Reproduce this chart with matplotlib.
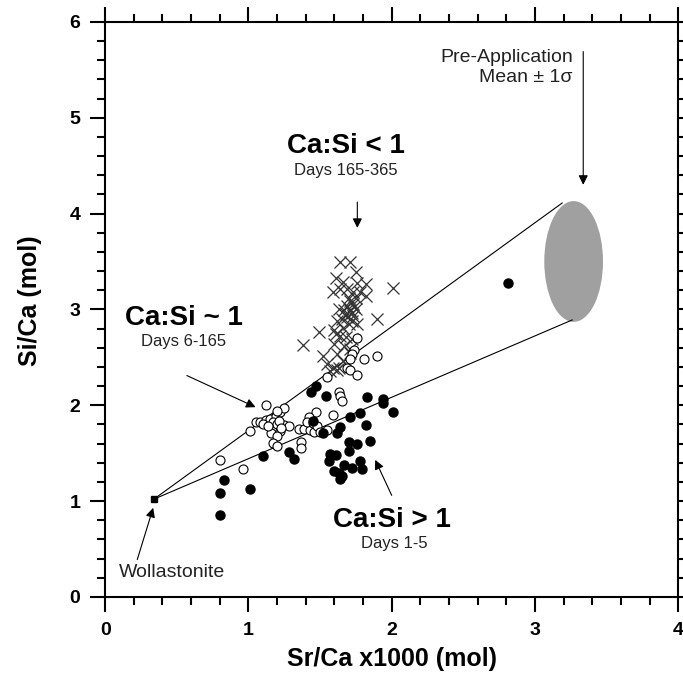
import numpy as np
import matplotlib
matplotlib.use("Agg")
import matplotlib.pyplot as plt
from matplotlib.patches import Ellipse
from matplotlib.ticker import MultipleLocator

plt.rcParams['font.family'] = ['Liberation Sans', 'DejaVu Sans']

# Ca:Si > 1, days 1-5 (filled circles)
filled_x = [0.83, 0.80, 1.01, 0.80, 1.10, 1.28, 1.32, 1.44, 1.47, 1.54, 1.45, 1.52,
            1.62, 1.64, 1.71, 1.78, 1.83, 1.94, 1.94, 2.01, 1.82, 1.70, 1.76, 1.85,
            1.70, 1.57, 1.61, 1.56, 1.67, 1.72, 1.78, 1.79, 1.63, 1.65, 1.64, 1.60,
            2.81]
filled_y = [1.22, 1.08, 1.13, 0.86, 1.47, 1.51, 1.44, 2.14, 2.20, 2.10, 1.84, 1.71,
            1.71, 1.77, 1.88, 1.92, 2.09, 2.06, 2.02, 1.93, 1.79, 1.62, 1.60, 1.63,
            1.52, 1.49, 1.48, 1.42, 1.38, 1.35, 1.42, 1.34, 1.29, 1.26, 1.23, 1.31,
            3.28]

# Ca:Si ~ 1, days 6-165 (open circles)
open_x = [0.80, 0.96, 1.12, 1.01, 1.05, 1.08, 1.12, 1.15, 1.19, 1.22, 1.25, 1.20,
          1.17, 1.20, 1.25, 1.22, 1.16, 1.20, 1.17, 1.20, 1.28, 1.35, 1.39, 1.43,
          1.46, 1.47, 1.42, 1.41, 1.37, 1.37, 1.63, 1.64, 1.65, 1.55, 1.69, 1.71,
          1.76, 1.81, 1.90, 1.76, 1.74, 1.72, 1.71, 1.59, 1.10, 1.14, 1.21, 1.23,
          1.45, 1.48, 1.50, 1.55]
open_y = [1.43, 1.33, 2.00, 1.73, 1.82, 1.83, 1.85, 1.86, 1.89, 1.93, 1.97, 1.94,
          1.82, 1.80, 1.79, 1.73, 1.71, 1.68, 1.61, 1.57, 1.78, 1.75, 1.75, 1.74,
          1.72, 1.93, 1.88, 1.82, 1.62, 1.55, 2.14, 2.10, 2.04, 2.29, 2.39, 2.37,
          2.32, 2.48, 2.51, 2.70, 2.58, 2.53, 2.48, 1.90, 1.80, 1.78, 1.84, 1.76,
          1.81, 1.78, 1.72, 1.74]

# Ca:Si < 1, days 165-365 (crosses)
cross_x = [1.64, 1.71, 1.75, 1.61, 1.66, 1.82, 1.76, 2.01, 1.59, 1.64, 1.69, 1.73,
           1.78, 1.82, 1.71, 1.73, 1.69, 1.75, 1.71, 1.67, 1.63, 1.73, 1.69, 1.65,
           1.72, 1.62, 1.76, 1.70, 1.66, 1.60, 1.90, 1.49, 1.61, 1.64, 1.68, 1.72,
           1.38, 1.60, 1.67, 1.71, 1.52, 1.62, 1.71, 1.55, 1.59, 1.63, 1.66, 1.62,
           1.57, 1.74, 1.72, 1.70, 1.75, 1.68]
cross_y = [3.49, 3.49, 3.39, 3.33, 3.29, 3.27, 3.28, 3.22, 3.18, 3.21, 3.21, 3.18,
           3.18, 3.14, 3.09, 3.06, 3.04, 3.00, 2.99, 2.99, 3.00, 2.93, 2.92, 2.90,
           2.88, 2.88, 2.85, 2.85, 2.81, 2.79, 2.90, 2.76, 2.74, 2.72, 2.71, 2.69,
           2.63, 2.64, 2.62, 2.59, 2.51, 2.53, 2.55, 2.43, 2.39, 2.39, 2.46, 2.37,
           2.36, 3.03, 2.96, 3.12, 3.12, 2.95]

wollastonite = (0.34, 1.02)
pre_mean = (3.27, 3.50)
pre_sd = (0.205, 0.63)
tangent_top = (3.19, 4.11)
tangent_bottom = (3.26, 2.89)

fig = plt.figure(figsize=(6.83, 6.83), dpi=100)
ax = fig.add_axes([0.154, 0.126, 0.839, 0.842])

ax.add_patch(Ellipse(pre_mean, 2 * pre_sd[0], 2 * pre_sd[1], facecolor='#a0a0a0',
                     edgecolor='none', zorder=1))
for end in (tangent_top, tangent_bottom):
    ax.plot([wollastonite[0], end[0]], [wollastonite[1], end[1]], color='black',
            lw=0.8, zorder=2)

ax.plot(cross_x, cross_y, 'x', color='#333333', markersize=8, mew=0.9, zorder=3)
ax.plot(open_x, open_y, 'o', mfc='white', mec='black', markersize=6.5, mew=0.8, zorder=4)
ax.plot(filled_x, filled_y, 'o', color='black', markersize=6.5, zorder=5)
ax.plot(*wollastonite, 's', color='black', markersize=5, zorder=6)

arrow = dict(arrowstyle='-|>', color='black', lw=0.8, mutation_scale=14,
             shrinkA=0, shrinkB=0)

ax.text(1.68, 4.70, 'Ca:Si < 1', fontsize=20, fontweight='bold', ha='center', va='center')
ax.text(1.68, 4.45, 'Days 165-365', fontsize=12, ha='center', va='center', color='#222222')
ax.annotate('', xy=(1.76, 3.85), xytext=(1.76, 4.12), arrowprops=arrow)

ax.text(0.55, 2.91, 'Ca:Si ~ 1', fontsize=20, fontweight='bold', ha='center', va='center')
ax.text(0.55, 2.665, 'Days 6-165', fontsize=12, ha='center', va='center', color='#222222')
ax.annotate('', xy=(1.05, 1.98), xytext=(0.57, 2.31), arrowprops=arrow)

ax.text(2.00, 0.80, 'Ca:Si > 1', fontsize=20, fontweight='bold', ha='center', va='center')
ax.text(2.02, 0.56, 'Days 1-5', fontsize=12, ha='center', va='center', color='#222222')
ax.annotate('', xy=(1.885, 1.43), xytext=(2.0, 1.06), arrowprops=arrow)

ax.text(0.47, 0.26, 'Wollastonite', fontsize=14, ha='center', va='center', color='#222222')
ax.annotate('', xy=(0.335, 0.93), xytext=(0.224, 0.39), arrowprops=arrow)

ax.text(3.263, 5.63, 'Pre-Application', fontsize=14, ha='right', va='center', color='#222222')
ax.text(3.263, 5.42, 'Mean \u00b1 1\u03c3', fontsize=14, ha='right', va='center', color='#222222')
ax.annotate('', xy=(3.337, 4.30), xytext=(3.337, 5.69), arrowprops=arrow)

ax.set_xlim(0, 4)
ax.set_ylim(0, 6)
ax.xaxis.set_major_locator(MultipleLocator(1))
ax.xaxis.set_minor_locator(MultipleLocator(0.2))
ax.yaxis.set_major_locator(MultipleLocator(1))
ax.yaxis.set_minor_locator(MultipleLocator(0.2))
ax.tick_params(which='both', direction='out', top=True, right=True, width=1.5)
ax.tick_params(which='major', length=11, labelsize=14, pad=7)
ax.tick_params(which='minor', length=6)
for lab in ax.get_xticklabels() + ax.get_yticklabels():
    lab.set_fontweight('bold')
for sp in ax.spines.values():
    sp.set_linewidth(1.5)

ax.set_xlabel('Sr/Ca x1000 (mol)', fontsize=18, fontweight='bold')
ax.set_ylabel('Si/Ca (mol)', fontsize=18, fontweight='bold')
ax.xaxis.set_label_coords(0.5, -0.087)
ax.yaxis.set_label_coords(-0.11, 0.515)

plt.savefig('out.png', dpi=100)
